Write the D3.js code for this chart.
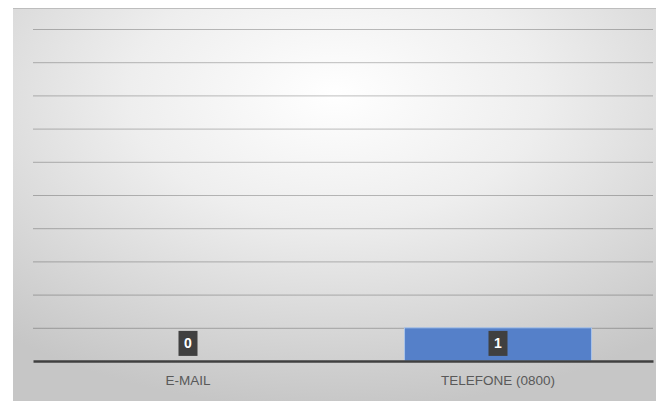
<!DOCTYPE html>
<html><head><meta charset="utf-8">
<script src="https://cdn.jsdelivr.net/npm/d3@7"></script>
<style>html,body{margin:0;padding:0;background:#fff;}svg{display:block;}</style>
</head><body>
<script>
const categories = ["E-MAIL", "TELEFONE (0800)"];
const values = [0, 1];
const yTicks = [0,1,2,3,4,5,6,7,8,9,10];

const W = 656, H = 401;
const svg = d3.select("body").append("svg").attr("width", W).attr("height", H);
const defs = svg.append("defs");
const g = defs.append("radialGradient").attr("id","bg")
  .attr("cx","50%").attr("cy","22%").attr("r","80%").attr("fx","50%").attr("fy","22%");
g.append("stop").attr("offset","0%").attr("stop-color","#ffffff");
g.append("stop").attr("offset","40%").attr("stop-color","#eeeeee");
g.append("stop").attr("offset","100%").attr("stop-color","#c6c6c6");

svg.append("rect").attr("x",13).attr("y",8).attr("width",W-13).attr("height",H-8).attr("fill","url(#bg)");
svg.append("line").attr("x1",13).attr("x2",W).attr("y1",8.5).attr("y2",8.5).attr("stroke","#bdbdbd").attr("stroke-width",1);

const pLeft = 33, pRight = 653, pTop = 29, pBottom = 361;
const x = d3.scaleBand().domain(categories).range([pLeft, pRight]).paddingInner(0.397).paddingOuter(0.1985);
const y = d3.scaleLinear().domain([0, 10]).range([pBottom, pTop]);

// gridlines
const grid = svg.append("g")
  .attr("transform", `translate(${pLeft},0)`)
  .call(d3.axisLeft(y).tickValues(yTicks.slice(1)).tickSize(-(pRight-pLeft)).tickFormat(""));
grid.select(".domain").remove();
grid.selectAll(".tick line").attr("stroke","#000").attr("stroke-opacity",0.25).attr("stroke-width",1);

// bars
svg.append("g").selectAll("rect").data(values).join("rect")
  .attr("x",(d,i)=>x(categories[i]))
  .attr("y",d=>y(d))
  .attr("width",x.bandwidth())
  .attr("height",d=>y(0)-y(d))
  .attr("fill","#5580c9")
  .attr("stroke","#a9c4ea").attr("stroke-width",1);

// baseline axis
const xa = svg.append("g").attr("transform",`translate(0,${pBottom})`)
  .call(d3.axisBottom(x).tickSize(0).tickPadding(14));
xa.select(".domain").attr("stroke","#404040").attr("stroke-width",2.4);
xa.selectAll("text").attr("font-family","'Liberation Sans', Arial, sans-serif")
  .attr("font-size","13.5px").attr("fill","#595959");

// data labels
const lab = svg.append("g").selectAll("g").data(values).join("g")
  .attr("transform",(d,i)=>`translate(${x(categories[i]) + x.bandwidth()/2},${(y(0)+y(1))/2 - 1})`);
lab.append("rect").attr("x",-9.5).attr("y",-12.5).attr("width",19).attr("height",25).attr("fill","#404040");
lab.append("text").text(d=>d).attr("text-anchor","middle").attr("dy","0.36em")
  .attr("font-family","'Liberation Sans', Arial, sans-serif").attr("font-weight","bold")
  .attr("font-size","14px").attr("fill","#ffffff");
</script>
</body></html>
